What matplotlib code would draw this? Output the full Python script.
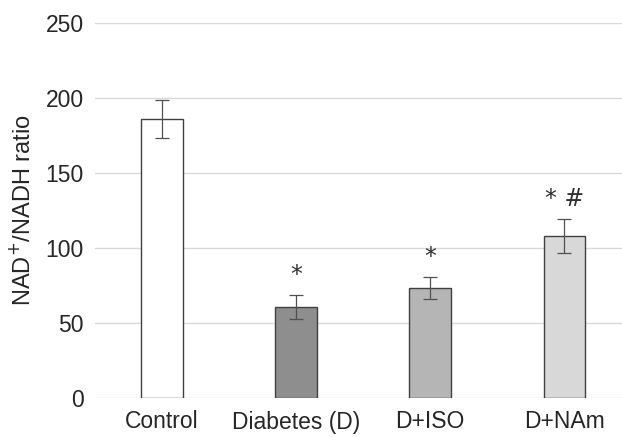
import matplotlib
matplotlib.use('Agg')
import matplotlib.pyplot as plt

plt.rcParams['font.family'] = ['Liberation Sans', 'DejaVu Sans']

groups = ['Control', 'Diabetes (D)', 'D+ISO', 'D+NAm']
values = [186, 61, 73.5, 108]
errors = [12.5, 8, 7.5, 11.5]
marks = ['', '*', '*', '* #']
colors = ['#ffffff', '#8e8e8e', '#b5b5b5', '#d8d8d8']

fig = plt.figure(figsize=(6.22, 4.37), dpi=100)
ax = fig.add_axes([95 / 622, 39 / 437, 1 - 95 / 622, 375 / 437])

x = range(len(groups))
ax.bar(x, values, width=0.31, color=colors, edgecolor='#404040', linewidth=1.0, zorder=3)
ax.errorbar(x, values, yerr=errors, fmt='none', ecolor='#505050', elinewidth=0.9,
            capsize=5, capthick=0.9, zorder=4)

for i, m in enumerate(marks):
    if m:
        ax.text(i, values[i] + errors[i] + 13, m, ha='center', va='center', fontsize=17,
                color='#303030', family=['DejaVu Sans'])

ax.set_xlim(-0.5, 3.43)
ax.set_ylim(0, 250)
ax.set_yticks(range(0, 251, 50))
ax.grid(axis='y', color='#d9d9d9', linewidth=1.0, zorder=0)
ax.set_axisbelow(True)
for s in ax.spines.values():
    s.set_visible(False)
ax.tick_params(axis='y', length=0, labelsize=16.5, colors='#262626', pad=8)
ax.tick_params(axis='x', length=0, labelsize=16.5, colors='#262626', pad=9)
ax.set_xticks(list(x))
ax.set_xticklabels(groups)
ax.set_ylabel('NAD$^{+}$/NADH ratio', fontsize=17, color='#262626', labelpad=8)

fig.savefig('out.png', dpi=100)
